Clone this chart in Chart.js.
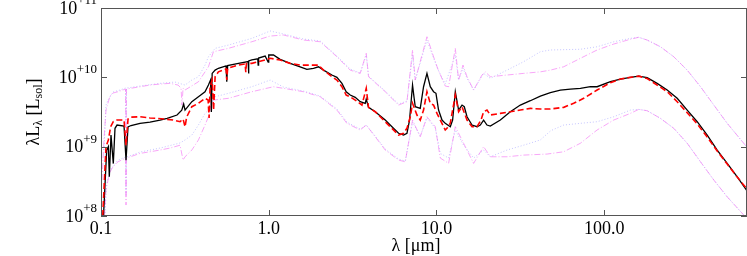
<!DOCTYPE html>
<html lang="en">
<head>
<meta charset="UTF-8">
<title>SED</title>
<style>
  html, body { margin: 0; padding: 0; background: #fff; }
  #wrap { width: 747px; height: 256px; }
</style>
</head>
<body>
<div id="wrap"><canvas id="sed" width="747" height="256"></canvas></div>
<script src="https://cdn.jsdelivr.net/npm/chart.js@4.4.1/dist/chart.umd.min.js"></script>
<script>
// [wavelength in micron, lambda*L_lambda in L_sol]
const bestFit = [
  [0.1035,1.0e8],[0.1081,8.9e8],[0.1106,1.0e9],[0.1121,3.7e8],[0.1147,1.47e9],[0.1184,5.7e8],
  [0.1212,1.84e9],[0.1246,2.05e9],[0.1372,1.98e9],[0.141,6.4e8],[0.1449,1.92e9],[0.151,2.02e9],
  [0.171,2.17e9],[0.196,2.26e9],[0.225,2.42e9],[0.248,2.56e9],[0.284,2.86e9],[0.303,3.37e9],
  [0.311,4.12e9],[0.317,3.37e9],[0.348,4.45e9],[0.381,5.25e9],[0.417,6.2e9],[0.437,7.74e9],
  [0.450,9.14e9],[0.455,3.16e9],[0.460,1.14e10],[0.479,1.27e10],[0.501,1.35e10],[0.557,1.46e10],
  [0.562,8.64e9],[0.569,1.48e10],[0.660,1.59e10],[0.754,1.69e10],[0.757,1.14e10],[0.762,1.72e10],
  [0.793,1.78e10],[0.86,1.85e10],[0.865,1.5e10],[0.87,1.9e10],[0.952,2.03e10],[0.992,1.66e10],
  [1.0,2.1e10],[1.067,2.1e10],[1.169,1.82e10],
  [1.342,1.59e10],[1.539,1.42e10],[1.688,1.30e10],[1.848,1.35e10],[1.98,1.42e10],[2.121,1.27e10],
  [2.38,1.08e10],[2.549,1.0e10],[2.731,8.19e9],[2.896,6.2e9],[3.06,5.55e9],[3.278,5.15e9],
  [3.511,4.45e9],[3.761,4.22e9],[3.813,4.86e9],[3.935,3.69e9],[4.313,3.19e9],[4.949,2.42e9],
  [5.428,1.94e9],[5.942,1.56e9],[6.363,1.47e9],[6.668,1.56e9],[6.91,2.42e9],[7.073,4.7e9],
  [7.2,7.74e9],[7.32,5.55e9],[7.472,3.77e9],[8.004,3.57e9],[8.375,7.32e9],[8.776,1.14e10],
  [9.184,7.32e9],[9.61,6.2e9],[9.93,5.88e9],[10.29,3.37e9],[10.79,2.42e9],[11.28,2.17e9],
  [12.09,1.94e9],[12.48,2.42e9],[12.95,6.2e9],[13.55,3.37e9],[14.2,3.98e9],[14.65,3.77e9],
  [15.21,2.7e9],[16.29,2.05e9],[17.45,1.94e9],[18.25,2.05e9],[19.1,2.42e9],[20.0,2.05e9],
  [20.94,1.98e9],[24.03,2.42e9],[27.56,3.19e9],[31.62,3.98e9],[36.28,4.6e9],[41.62,5.37e9],
  [47.75,6.0e9],[54.79,6.56e9],[62.85,6.78e9],[72.11,6.94e9],[82.73,7.32e9],[90.7,7.32e9],
  [108.9,8.64e9],[124.9,9.45e9],[143.3,1.0e10],[160.6,1.04e10],[180.3,9.87e9],[206.8,8.19e9],
  [237.3,6.56e9],[272.3,4.98e9],[312.4,3.37e9],[358.4,2.29e9],[411.2,1.47e9],[471.6,8.94e8],
  [541.1,5.74e8],[620.9,3.68e8],[705.4,2.36e8]
];

const medianSed = [
  [0.1024,1.0e8],[0.1071,1.0e9],[0.1106,1.25e9],[0.1142,1.94e9],[0.1184,2.29e9],[0.1246,2.42e9],
  [0.1372,2.42e9],[0.141,1.05e9],[0.1449,2.5e9],[0.151,2.67e9],[0.171,2.7e9],[0.196,2.59e9],
  [0.216,2.56e9],[0.241,2.5e9],[0.269,2.42e9],[0.296,2.29e9],[0.3085,2.5e9],[0.317,1.94e9],
  [0.324,2.67e9],[0.348,3.77e9],[0.381,4.22e9],[0.417,4.98e9],[0.435,4.7e9],[0.441,2.59e9],
  [0.447,7.32e9],[0.46,9.14e9],[0.469,3.37e9],[0.479,1.02e10],[0.501,1.2e10],[0.557,1.32e10],
  [0.562,9.14e9],[0.569,1.35e10],[0.66,1.5e10],[0.723,1.56e10],[0.730,1.19e10],[0.736,1.58e10],
  [0.793,1.59e10],[0.952,1.78e10],[1.02,1.88e10],[1.169,1.78e10],[1.342,1.59e10],[1.539,1.5e10],
  [1.848,1.5e10],[1.98,1.5e10],[2.121,1.27e10],[2.38,1.02e10],[2.549,9.14e9],[2.731,7.32e9],
  [2.896,5.55e9],[3.06,5.25e9],[3.278,4.7e9],[3.594,3.98e9],[3.813,6.94e9],[3.935,3.69e9],
  [4.313,3.19e9],[4.949,2.29e9],[5.942,1.47e9],[6.363,1.56e9],[6.668,1.84e9],[6.98,2.7e9],
  [7.2,4.22e9],[7.65,2.86e9],[8.004,2.42e9],[8.375,3.37e9],[8.776,6.2e9],[9.184,4.22e9],
  [9.61,3.98e9],[10.07,3.02e9],[11.28,1.74e9],[11.55,1.84e9],[12.09,2.19e9],[12.95,5.55e9],
  [13.55,3.19e9],[14.2,3.77e9],[15.21,2.42e9],[16.29,1.94e9],[17.45,1.94e9],[18.43,2.42e9],
  [19.1,3.19e9],[20.0,3.37e9],[20.94,2.86e9],[24.03,3.02e9],[27.56,3.19e9],[31.62,3.37e9],
  [36.28,3.57e9],[41.62,3.49e9],[47.75,3.49e9],[57.34,3.69e9],[65.77,4.22e9],[75.45,4.98e9],
  [90.7,6.56e9],[108.9,8.36e9],[124.9,9.45e9],[143.3,1.0e10],[160.6,1.04e10],[180.3,9.61e9],
  [206.8,7.74e9],[237.3,6.2e9],[272.3,4.45e9],[312.4,3.09e9],[358.4,2.12e9],[411.2,1.38e9],
  [471.6,8.64e8],[541.1,5.61e8],[620.9,3.64e8],[705.4,2.5e8]
];

const upperDashDot = [
  [0.1014,3.3e8],[0.1042,1.25e9],[0.1071,3.37e9],[0.1101,4.26e9],[0.1132,5.37e9],[0.1179,5.94e9],
  [0.1263,6.2e9],[0.14,6.78e9],[0.141,1.25e9],[0.142,6.78e9],[0.171,7.32e9],[0.196,7.74e9],
  [0.225,8.0e9],[0.258,8.19e9],[0.288,7.74e9],[0.300,7.01e9],[0.304,3.98e9],[0.3085,7.01e9],
  [0.317,6.56e9],[0.381,8.64e9],[0.437,1.42e10],[0.468,2.34e10],[0.575,2.62e10],[0.793,3.26e10],
  [1.02,3.94e10],[1.224,4.08e10],[1.611,3.45e10],[2.027,3.26e10],[2.549,1.98e10],[3.06,1.27e10],
  [3.511,1.14e10],[3.813,2.22e10],[3.935,1.02e10],[4.949,6.2e9],[5.942,3.98e9],[6.668,4.45e9],
  [7.2,2.48e10],[7.472,9.14e9],[8.776,3.85e10],[9.61,1.98e10],[10.25,1.27e10],[11.28,7.49e9],
  [11.81,7.32e9],[12.95,2.62e10],[13.55,9.14e9],[14.39,1.5e10],[15.21,1.02e10],[16.65,6.56e9],
  [18.68,1.08e10],[19.55,1.2e10],[20.94,1.02e10],[26.34,1.08e10],[33.09,1.14e10],[41.62,1.2e10],
  [47.75,1.27e10],[57.34,1.42e10],[72.11,1.88e10],[90.7,2.48e10],[113.9,3.02e10],[143.3,3.54e10],
  [160.6,3.78e10],[180.3,3.45e10],[216.4,2.76e10],[259.8,1.98e10],[312.4,1.27e10],[375,7.32e9],
  [450.3,3.98e9],[541.1,2.17e9],[705.4,1.0e9]
];

const upperDotted = [
  [0.1042,8.94e8],[0.1071,3.98e9],[0.1101,4.7e9],[0.1179,6.14e9],[0.1298,6.56e9],[0.14,7.01e9],
  [0.141,2.42e9],[0.142,7.01e9],[0.171,7.49e9],[0.225,8.19e9],[0.2764,8.55e9],[0.317,7.74e9],
  [0.348,9.14e9],[0.381,1.02e10],[0.417,1.5e10],[0.437,1.98e10],[0.479,2.62e10],[0.575,2.92e10],
  [0.793,3.65e10],[1.02,4.66e10],[1.224,4.22e10],[1.611,3.57e10],[2.027,3.34e10],[2.549,2.03e10],
  [3.06,1.32e10],[3.511,1.15e10],[3.813,2.1e10],[3.935,1.04e10],[4.949,6.34e9],[5.942,4.12e9],
  [6.668,4.55e9],[7.2,2.1e10],[7.472,9.14e9],[8.776,3.45e10],[9.61,1.9e10],[10.25,1.27e10],
  [11.28,8.0e9],[12.95,2.1e10],[13.55,9.14e9],[14.39,1.36e10],[15.21,9.67e9],[16.65,6.56e9],
  [19.1,1.14e10],[20.94,9.67e9],[26.34,1.27e10],[33.09,1.68e10],[41.62,2.34e10],[47.75,2.48e10],
  [72.11,2.54e10],[90.7,2.76e10],[113.9,3.26e10],[143.3,3.65e10],[160.6,3.78e10],[180.3,3.45e10],
  [216.4,2.76e10],[259.8,1.98e10],[312.4,1.27e10],[375,7.32e9],[450.3,3.98e9],[541.1,2.17e9],
  [705.4,1.0e9]
];

const lowerDashDot = [
  [0.1049,1.0e8],[0.1071,2.36e8],[0.1101,3.3e8],[0.1132,4.3e8],[0.1179,5.13e8],[0.1263,6.05e8],
  [0.14,6.85e8],[0.141,1.44e8],[0.142,6.85e8],[0.171,8.0e8],[0.196,8.44e8],[0.225,8.94e8],
  [0.258,9.55e8],[0.296,1.05e9],[0.3085,6.41e8],[0.317,7.15e8],[0.348,8.94e8],[0.381,1.25e9],
  [0.417,2.05e9],[0.437,2.7e9],[0.453,3.98e9],[0.468,4.7e9],[0.575,4.98e9],[0.793,6.2e9],
  [1.067,7.32e9],[1.224,6.94e9],[1.611,6.2e9],[2.027,5.25e9],[2.549,3.37e9],[2.924,2.17e9],
  [3.511,1.74e9],[3.813,2.05e9],[4.313,1.39e9],[4.949,8.94e8],[5.942,6.41e8],[6.513,6.05e8],
  [7.2,2.42e9],[8.004,1.39e9],[8.776,2.7e9],[9.835,1.94e9],[10.54,6.85e8],[11.81,5.74e8],
  [12.95,1.94e9],[14.51,1.12e9],[16.65,5.74e8],[19.1,1.0e9],[20.94,7.15e8],[26.34,7.15e8],
  [33.09,7.56e8],[45.63,7.82e8],[57.34,8.44e8],[72.11,1.12e9],[90.7,1.74e9],[113.9,2.42e9],
  [143.3,3.02e9],[160.6,3.45e9],[180.3,3.3e9],[216.4,2.56e9],[259.8,1.84e9],[312.4,1.12e9],
  [375,6.05e8],[450.3,3.3e8],[541.1,1.89e8],[679.6,1.03e8]
];

const lowerDotted = [
  [0.1056,1.0e8],[0.1078,2.79e8],[0.1132,4.6e8],[0.1263,6.41e8],[0.14,7.08e8],[0.141,2.0e8],
  [0.142,7.08e8],[0.171,8.36e8],[0.225,9.55e8],[0.296,1.13e9],[0.317,1.25e9],[0.348,1.47e9],
  [0.381,2.05e9],[0.417,3.02e9],[0.437,3.37e9],[0.479,5.25e9],[0.575,5.88e9],[0.793,7.32e9],
  [1.02,9.14e9],[1.224,7.24e9],[1.611,6.34e9],[2.027,5.37e9],[2.549,3.49e9],[2.924,2.26e9],
  [3.511,1.79e9],[3.813,2.05e9],[4.313,1.42e9],[4.949,9.23e8],[5.942,6.62e8],[6.513,6.2e8],
  [7.2,2.26e9],[8.004,1.42e9],[8.776,2.59e9],[9.835,1.85e9],[10.54,8.0e8],[11.81,6.85e8],
  [12.95,1.74e9],[14.51,1.05e9],[16.65,6.85e8],[19.1,8.94e8],[20.94,7.15e8],[26.34,8.94e8],
  [33.09,1.05e9],[41.62,1.25e9],[48.0,1.7e9],[57.34,2.05e9],[72.11,2.17e9],[90.7,2.29e9],
  [113.9,2.7e9],[143.3,3.37e9],[160.6,3.45e9],[180.3,3.3e9],[216.4,2.56e9],[259.8,1.84e9],
  [312.4,1.12e9],[375,6.05e8],[450.3,3.3e8],[541.1,1.89e8],[679.6,1.03e8]
];

// axes
const xMajor = [0.1, 1, 10, 100];
const xMajorLabels = ['0.1', '1.0', '10.0', '100.0'];
const xMinor = [0.2, 0.5, 2, 5, 20, 50, 200, 500];
const yMajor = [1e8, 1e9, 1e10, 1e11];
const yMajorExp = ['+8', '+9', '+10', '+11'];
const yMinor = [1.5e8, 2e8, 5e8, 1.5e9, 2e9, 5e9, 1.5e10, 2e10, 5e10];

const toXY = arr => arr.map(p => ({ x: p[0], y: p[1] }));

function line(data, color, width, dash, order) {
  return {
    data: toXY(data),
    borderColor: color,
    borderWidth: width,
    borderDash: dash,
    pointRadius: 0,
    tension: 0,
    fill: false,
    order: order
  };
}

const serif = '"Liberation Serif", "DejaVu Serif", serif';

// frame, inward ticks and labels
const axisFrame = {
  id: 'axisFrame',
  afterDraw(chart) {
    const { ctx, chartArea: a, scales } = chart;
    const x = scales.x, y = scales.y;
    ctx.save();
    ctx.strokeStyle = '#555';
    ctx.lineWidth = 1;
    ctx.setLineDash([]);
    ctx.strokeRect(a.left + 0.5, a.top + 0.5, a.right - a.left - 1, a.bottom - a.top - 1);

    ctx.beginPath();
    x.ticks.forEach(t => {
      const px = Math.round(x.getPixelForValue(t.value)) + 0.5;
      const len = t.major ? 6 : 5;
      ctx.moveTo(px, a.bottom); ctx.lineTo(px, a.bottom - len);
      ctx.moveTo(px, a.top); ctx.lineTo(px, a.top + len);
    });
    y.ticks.forEach(t => {
      const py = Math.round(y.getPixelForValue(t.value)) + 0.5;
      const len = t.major ? 6 : 4;
      ctx.moveTo(a.left, py); ctx.lineTo(a.left + len, py);
      ctx.moveTo(a.right, py); ctx.lineTo(a.right - len, py);
    });
    ctx.stroke();

    ctx.fillStyle = '#000';
    // x tick labels
    ctx.font = '18px ' + serif;
    ctx.textAlign = 'center';
    ctx.textBaseline = 'middle';
    xMajor.forEach((v, i) => {
      ctx.fillText(xMajorLabels[i], x.getPixelForValue(v), 229);
    });

    // y tick labels: 10 with superscript exponent
    yMajor.forEach((v, i) => {
      const py = y.getPixelForValue(v);
      ctx.font = '13px ' + serif;
      const ew = ctx.measureText(yMajorExp[i]).width;
      const right = 97;
      ctx.textAlign = 'left';
      ctx.textBaseline = 'alphabetic';
      ctx.fillText(yMajorExp[i], right - ew, py - 4);
      ctx.font = '18px ' + serif;
      ctx.textAlign = 'right';
      ctx.textBaseline = 'middle';
      ctx.fillText('10', right - ew, py + 1);
    });

    // x title
    ctx.font = '18px ' + serif;
    ctx.textAlign = 'center';
    ctx.textBaseline = 'middle';
    ctx.fillText('λ [μm]', 416, 246);

    // y title with subscripts
    const parts = [['λL', 18, 0], ['λ', 12, 5], [' [L', 18, 0], ['sol', 12, 5], [']', 18, 0]];
    let total = 0;
    parts.forEach(p => { ctx.font = p[1] + 'px ' + serif; p.push(ctx.measureText(p[0]).width); total += p[3]; });
    ctx.translate(34, (a.top + a.bottom) / 2);
    ctx.rotate(-Math.PI / 2);
    ctx.textAlign = 'left';
    ctx.textBaseline = 'middle';
    let cx = -total / 2;
    parts.forEach(p => {
      ctx.font = p[1] + 'px ' + serif;
      ctx.fillText(p[0], cx, p[2]);
      cx += p[3];
    });
    ctx.restore();
  }
};

new Chart(document.getElementById('sed'), {
  type: 'line',
  data: {
    datasets: [
      line(medianSed, '#ff0000', 1.6, [6, 3], 0),
      line(bestFit, '#000000', 1.3, [], 1),
      line(upperDashDot, 'rgba(245,120,245,0.65)', 1, [6, 2, 1, 2], 2),
      line(lowerDashDot, 'rgba(245,120,245,0.65)', 1, [6, 2, 1, 2], 2),
      line(upperDotted, 'rgba(150,150,255,0.55)', 1, [1, 2], 3),
      line(lowerDotted, 'rgba(150,150,255,0.55)', 1, [1, 2], 3)
    ]
  },
  options: {
    responsive: false,
    animation: false,
    layout: { padding: { left: 101, right: 0, top: 8, bottom: 40 } },
    plugins: { legend: { display: false }, tooltip: { enabled: false } },
    scales: {
      x: {
        type: 'logarithmic',
        display: false,
        min: 0.1,
        max: 710,
        afterBuildTicks: s => {
          s.ticks = xMajor.map(v => ({ value: v, major: true }))
            .concat(xMinor.map(v => ({ value: v, major: false })));
        }
      },
      y: {
        type: 'logarithmic',
        display: false,
        min: 1e8,
        max: 1e11,
        afterBuildTicks: s => {
          s.ticks = yMajor.map(v => ({ value: v, major: true }))
            .concat(yMinor.map(v => ({ value: v, major: false })));
        }
      }
    }
  },
  plugins: [axisFrame]
});
</script>
</body>
</html>
